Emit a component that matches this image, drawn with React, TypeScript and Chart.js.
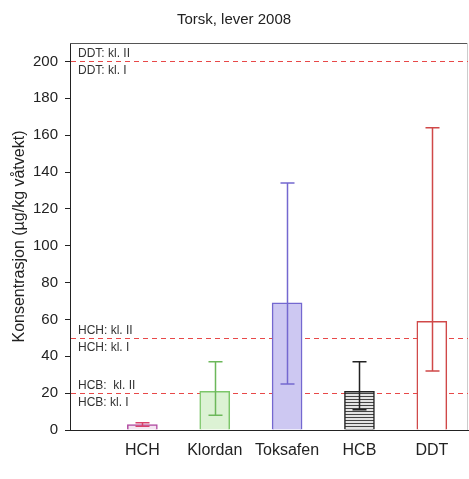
import React, { useEffect, useRef } from "react";
import { Chart, registerables } from "chart.js";

Chart.register(...registerables);

const categories = ["HCH", "Klordan", "Toksafen", "HCB", "DDT"];
const means = [3, 21, 69, 21, 59];
const errLow = [2, 8, 25, 11, 32];
const errHigh = [4, 37, 134, 37, 164];
const yTicks = [0, 20, 40, 60, 80, 100, 120, 140, 160, 180, 200];
const refValues = [200, 50, 20];
const refUpper = ["DDT: kl. II", "HCH: kl. II", "HCB:  kl. II"];
const refLower = ["DDT: kl. I", "HCH: kl. I", "HCB: kl. I"];

const fills = ["#f4e4f1", "#dcf2d4", "#cdc8f2", "HATCH", "#ffffff"];
const borders = ["#b04aa0", "#7cc66a", "#7468d0", "#222222", "#d04848"];
const errColors = ["#d8406a", "#6cb85a", "#7468d0", "#222222", "#d04848"];

const FONT = "'Liberation Sans', Arial, sans-serif";

function makeHatch(): CanvasPattern | string {
  const c = document.createElement("canvas");
  c.width = 6;
  c.height = 3;
  const g = c.getContext("2d");
  if (!g) return "#ddd";
  g.fillStyle = "#e4e4e4";
  g.fillRect(0, 0, 6, 3);
  g.fillStyle = "#444";
  g.fillRect(0, 0, 6, 1);
  return g.createPattern(c, "repeat") || "#ddd";
}

const refPlugin = {
  id: "refLines",
  beforeDatasetsDraw(chart: any) {
    const { ctx, chartArea } = chart;
    const y = chart.scales.y;
    ctx.save();
    ctx.strokeStyle = "#555";
    ctx.lineWidth = 1;
    ctx.beginPath();
    ctx.moveTo(chartArea.left, chartArea.top + 0.5);
    ctx.lineTo(chartArea.right, chartArea.top + 0.5);
    ctx.stroke();
    ctx.strokeStyle = "#ccc";
    ctx.beginPath();
    ctx.moveTo(chartArea.right - 0.5, chartArea.top);
    ctx.lineTo(chartArea.right - 0.5, chartArea.bottom);
    ctx.stroke();
    refValues.forEach((v, i) => {
      const py = Math.round(y.getPixelForValue(v)) + 0.5;
      ctx.strokeStyle = "#e84848";
      ctx.lineWidth = 1;
      ctx.setLineDash([5, 4]);
      ctx.beginPath();
      ctx.moveTo(chartArea.left + 1, py);
      ctx.lineTo(chartArea.right, py);
      ctx.stroke();
      ctx.setLineDash([]);
      ctx.fillStyle = "#333";
      ctx.font = `12px ${FONT}`;
      ctx.textBaseline = "middle";
      ctx.textAlign = "left";
      ctx.fillText(refUpper[i], chartArea.left + 8, py - 8);
      ctx.fillText(refLower[i], chartArea.left + 8, py + 9);
    });
    ctx.restore();
  },
};

const errPlugin = {
  id: "errBars",
  afterDatasetsDraw(chart: any) {
    const { ctx } = chart;
    const x = chart.scales.x;
    const y = chart.scales.y;
    ctx.save();
    ctx.lineWidth = 1.5;
    categories.forEach((_, i) => {
      const px = Math.round(x.getPixelForValue(i + 1)) + 0.5;
      const lo = y.getPixelForValue(errLow[i]);
      const hi = y.getPixelForValue(errHigh[i]);
      ctx.strokeStyle = errColors[i];
      ctx.beginPath();
      ctx.moveTo(px, lo);
      ctx.lineTo(px, hi);
      ctx.moveTo(px - 7, hi);
      ctx.lineTo(px + 7, hi);
      ctx.moveTo(px - 7, lo);
      ctx.lineTo(px + 7, lo);
      ctx.stroke();
    });
    ctx.restore();
  },
};

export default function App() {
  const ref = useRef<HTMLCanvasElement>(null);
  useEffect(() => {
    if (!ref.current) return;
    const hatch = makeHatch();
    const bg = fills.map((f) => (f === "HATCH" ? hatch : f));
    const chart = new Chart(ref.current, {
      type: "bar",
      data: {
        datasets: [
          {
            data: means.map((v, i) => ({ x: i + 1, y: v })),
            backgroundColor: bg as any,
            borderColor: borders,
            borderWidth: 1.5,
            barThickness: 30,
          },
        ],
      },
      options: {
        responsive: false,
        animation: false,
        layout: { padding: { left: 0, right: 1, top: 0, bottom: 0 } },
        plugins: {
          legend: { display: false },
          tooltip: { enabled: false },
          title: {
            display: true,
            text: "Torsk, lever 2008",
            color: "#222",
            font: { family: FONT, size: 15, weight: "normal" },
            padding: { top: 11, bottom: 14 },
          },
        },
        scales: {
          x: {
            type: "linear",
            min: 0,
            max: 5.5,
            offset: false,
            afterBuildTicks: (s: any) => {
              s.ticks = categories.map((_, i) => ({ value: i + 1 }));
            },
            afterFit: (s: any) => {
              s.height = 49;
            },
            grid: { display: false, offset: false },
            border: { display: true, color: "#222", width: 1 },
            ticks: {
              autoSkip: false,
              maxRotation: 0,
              padding: 3,
              color: "#222",
              font: { family: FONT, size: 16 },
              callback: (v: any) => categories[Number(v) - 1] ?? "",
            },
          },
          y: {
            min: 0,
            max: 210,
            afterBuildTicks: (s: any) => {
              s.ticks = yTicks.map((v) => ({ value: v }));
            },
            afterFit: (s: any) => {
              s.width = 70;
            },
            grid: {
              display: true,
              drawOnChartArea: false,
              drawTicks: true,
              tickLength: 5,
              color: "#222",
            },
            border: { display: true, color: "#222", width: 1 },
            ticks: {
              padding: 7,
              color: "#222",
              font: { family: FONT, size: 15 },
            },
            title: {
              display: true,
              text: "Konsentrasjon (µg/kg våtvekt)",
              color: "#222",
              font: { family: FONT, size: 16 },
              padding: { top: 10, bottom: 0 },
            },
          },
        },
      },
      plugins: [refPlugin, errPlugin],
    });
    return () => chart.destroy();
  }, []);
  return (
    <div style={{ position: "fixed", left: 0, top: 0, width: 469, height: 479, background: "#fff" }}>
      <canvas ref={ref} width={469} height={479} />
    </div>
  );
}
